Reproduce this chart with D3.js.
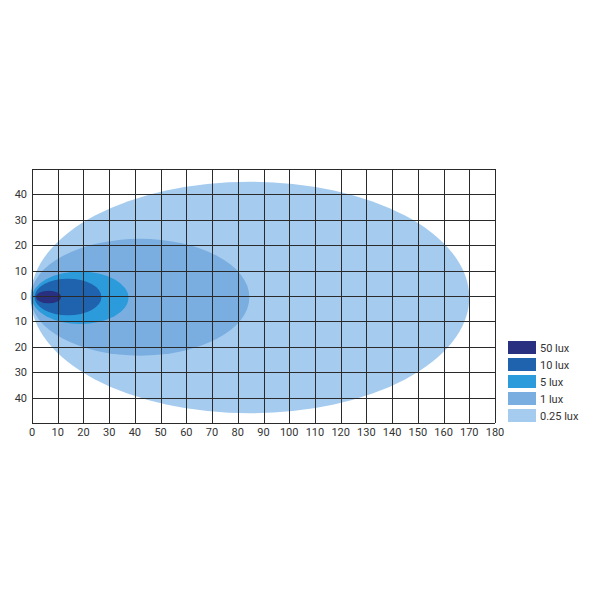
<!DOCTYPE html>
<html><head><meta charset="utf-8">
<script src="https://cdn.jsdelivr.net/npm/d3@7"></script>
<style>body{margin:0;background:#fff}svg{display:block}</style>
</head><body>
<svg id="c" width="600" height="600"></svg>
<script>
const xTicks = [0,10,20,30,40,50,60,70,80,90,100,110,120,130,140,150,160,170,180];
const yTicks = [40,30,20,10,0,-10,-20,-30,-40];
const levels = ["0.25 lux","1 lux","5 lux","10 lux","50 lux"];
const xStart = [-0.5, -0.5, 0, 1, 1.6];
const xEnd   = [170, 84.5, 37.5, 27, 11.3];
const halfW  = [45.6, 23, 10.3, 7.2, 2.5];
const yOff   = [-0.6, -0.5, -0.7, -0.4, -0.4];
const colors = ["#a5cbef","#7aaee0","#2b9bdb","#1f62ad","#28307f"];
const legendOrder = ["50 lux","10 lux","5 lux","1 lux","0.25 lux"];

const svg = d3.select("#c");
const x = d3.scaleLinear().domain([0,180]).range([32,495]);
const y = d3.scaleLinear().domain([50,-50]).range([169,423]);

const g = svg.append("g");
svg.append("defs").append("clipPath").attr("id","clip")
  .append("rect").attr("x",x(-1)).attr("y",y(50)).attr("width",x(180)-x(-1)).attr("height",y(-50)-y(50));

g.append("g").attr("clip-path","url(#clip)").selectAll("ellipse").data(levels).join("ellipse")
  .attr("cx",(d,i)=>(x(xStart[i])+x(xEnd[i]))/2)
  .attr("cy",(d,i)=>y(yOff[i]))
  .attr("rx",(d,i)=>(x(xEnd[i])-x(xStart[i]))/2)
  .attr("ry",(d,i)=>y(0)-y(halfW[i]))
  .attr("fill",(d,i)=>colors[i]);

// grid
const grid = g.append("g").attr("stroke","#2a2a2a").attr("stroke-width",1);
d3.range(0,181,10).forEach(v=>{
  grid.append("line").attr("x1",Math.round(x(v))+0.5).attr("x2",Math.round(x(v))+0.5)
    .attr("y1",y(50)).attr("y2",y(-50));
});
d3.range(-50,51,10).forEach(v=>{
  grid.append("line").attr("y1",Math.round(y(v))+0.5).attr("y2",Math.round(y(v))+0.5)
    .attr("x1",x(0)).attr("x2",x(180));
});

// labels
const lab = g.append("g").attr("font-family","Roboto, 'Open Sans', sans-serif").attr("font-size",11).attr("fill","#333");
lab.selectAll("text.x").data(xTicks).join("text").attr("class","x")
  .attr("x",d=>x(d)).attr("y",436).attr("text-anchor","middle").text(d=>d);
lab.selectAll("text.y").data(yTicks).join("text").attr("class","y")
  .attr("x",27).attr("y",d=>y(d)+4).attr("text-anchor","end").text(d=>Math.abs(d));

// legend
const lg = svg.append("g").attr("font-family","Roboto, 'Open Sans', sans-serif").attr("font-size",11).attr("fill","#333");
legendOrder.forEach((name,i)=>{
  const ci = levels.indexOf(name);
  lg.append("rect").attr("x",508).attr("y",341+i*17).attr("width",28).attr("height",13).attr("fill",colors[ci]);
  lg.append("text").attr("x",540).attr("y",352+i*17).text(name);
});
</script>
</body></html>
